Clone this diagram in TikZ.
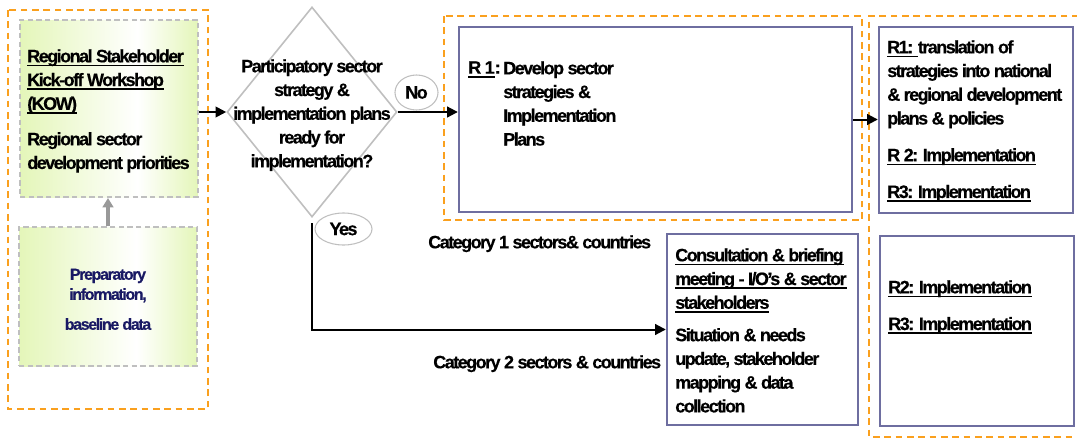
\documentclass[tikz,border=0pt]{standalone}
\usepackage{fontspec}
\setmainfont{Liberation Sans}[LetterSpace=-8.5,BoldFeatures={FakeBold=0.4}]
\usepackage{tikz}
\usetikzlibrary{arrows.meta,shapes.geometric}
\definecolor{OrangeLine}{RGB}{250,160,30}
\definecolor{BoxLine}{RGB}{110,110,160}
\definecolor{KowGreen}{RGB}{228,246,185}
\definecolor{PrepBlue}{RGB}{25,25,100}
\pgfdeclarehorizontalshading{kowshade}{100bp}{color(0bp)=(KowGreen); color(25bp)=(KowGreen); color(58bp)=(white); color(75bp)=(KowGreen); color(100bp)=(KowGreen)}
\newsavebox{\ulbox}
\newcommand{\uln}[1]{\sbox{\ulbox}{#1}\rlap{\rule[-3.1pt]{\wd\ulbox}{1.3pt}}\usebox{\ulbox}}

\begin{document}
\begin{tikzpicture}[x=0.75pt,y=-0.75pt,
	font=\fontsize{13.5}{17.8}\selectfont\bfseries,
	orangebox/.style={draw=OrangeLine,line width=1.8pt,dash pattern=on 5pt off 3.5pt},
	greenbox/.style={draw=black!25,line width=1.5pt,dash pattern=on 4pt off 2.5pt,shading=kowshade,inner sep=0},
	bluebox/.style={draw=BoxLine,line width=1.8pt,inner sep=0},
	txt/.style={anchor=north west,inner sep=0,align=left},
	bubble/.style={ellipse,draw=black!25,line width=0.8pt,inner sep=0},
	arr/.style={-{Triangle[length=8pt,width=8pt]},line width=1.5pt},
	graya/.style={-{Triangle[length=7pt,width=8pt]},line width=2.5pt,draw=black!40,fill=black!40}]
	\useasboundingbox (0,0) rectangle (1077,439);

	% frames
	\draw[orangebox] (8,10) rectangle (208,409);
	\draw[orangebox] (444,16) rectangle (862,220);
	\draw[orangebox] (1090,16) -- (869,16) -- (869,437) -- (1090,437);

	% left column
	\node[greenbox,minimum width=133.5pt,minimum height=132.75pt] (kow) at (109,108.5) {};
	\node[greenbox,minimum width=133.5pt,minimum height=104.25pt] (prep) at (108,296.5) {};
	\node[txt] (kowtxt) at (27,49) {\uln{Regional Stakeholder}\\ \uln{Kick-off Workshop}\\ \uln{(KOW)}\\[8.8pt] Regional sector\\ development priorities};
	\node[anchor=north,inner sep=0,align=center,text=PrepBlue,font=\fontsize{12}{15}\selectfont\bfseries] (preptxt) at (108,268.5) {Preparatory\\ information,\\[7.5pt] baseline data};

	% decision
	\node[diamond,draw=black!25,line width=1.2pt,inner sep=0,minimum width=127.5pt,minimum height=157.5pt] (q) at (312,112) {};
	\node[anchor=north,inner sep=0,align=center] (qtxt) at (312,59) {Participatory sector\\ strategy \&\\ implementation plans\\ ready for\\ implementation?};
	\node[bubble,minimum width=32.25pt,minimum height=26.25pt] (no) at (416.5,92.5) {No};
	\node[bubble,minimum width=42.75pt,minimum height=24pt] (yes) at (343.5,229) {Yes};
	\coordinate (yesstart) at (312,223);

	% category 1
	\node[bluebox,minimum width=294.75pt,minimum height=138.75pt] (r1box) at (655.5,119.5) {};
	\node[txt] (r1lab) at (468,61) {\uln{R 1}:};
	\node[txt] (r1txt) at (503,61) {Develop sector\\ strategies \&\\ Implementation\\ Plans};
	\node[txt] (cat1) at (428,235) {Category 1 sectors\& countries};

	% category 2
	\node[bluebox,minimum width=143.25pt,minimum height=143.25pt] (cons) at (762.5,329.5) {};
	\node[txt] (constxt) at (675,248) {\uln{Consultation \& briefing}\\ \uln{meeting - I/O's \& sector}\\ \uln{stakeholders}\\[6.5pt] Situation \& needs\\ update, stakeholder\\ mapping \& data\\ collection};
	\node[txt] (cat2) at (433,355) {Category 2 sectors \& countries};

	% right column
	\node[bluebox,minimum width=145.5pt,minimum height=139.5pt] (rbox) at (976,120) {};
	\node[txt] (rtxt) at (887,40) {\uln{R1: }translation of\\ strategies into national\\ \& regional development\\ plans \& policies\\[9.75pt] \uln{R 2: Implementation}\\[9.75pt] \uln{R3: Implementation}};
	\node[bluebox,minimum width=145.5pt,minimum height=142.5pt] (rlow) at (977,331) {};
	\node[txt] (rlowtxt) at (888,280) {\uln{R2: Implementation}\\[9.75pt] \uln{R3: Implementation}};

	\path[arr]
	(kow.east |- q.west) edge (q.west)
	(q.east) edge (r1box.west |- q.east)
	(yesstart) edge[to path={|- (\tikztotarget)}] (cons.west)
	(r1box.east) edge (r1box.east -| rbox.west)
	;
	\draw[graya] (prep.north) -- (prep.north |- kow.south);
\end{tikzpicture}
\end{document}
